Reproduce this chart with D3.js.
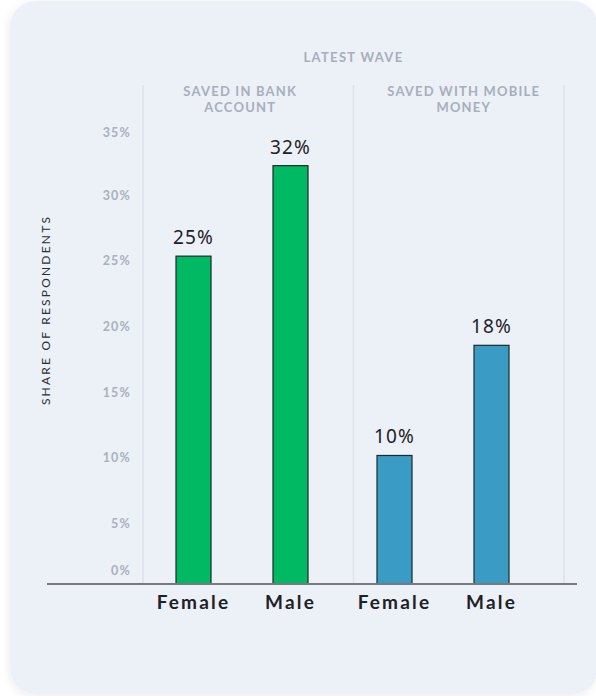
<!DOCTYPE html>
<html>
<head>
<meta charset="utf-8">
<script src="https://cdn.jsdelivr.net/npm/d3@7/dist/d3.min.js"></script>
<style>
  html, body { margin: 0; padding: 0; background: #ffffff; }
  svg { display: block; }
</style>
</head>
<body>
<script>
// ---- data ----
const groups = ["SAVED IN BANK ACCOUNT", "SAVED WITH MOBILE MONEY"];
const groupHeaderLines = [["SAVED IN BANK", "ACCOUNT"], ["SAVED WITH MOBILE", "MONEY"]];
const sexes = ["Female", "Male"];
const bankValues = [25.0, 31.9];
const mobileValues = [9.8, 18.2];
const valueLabels = [["25%", "32%"], ["10%", "18%"]];
const yTicks = [0, 5, 10, 15, 20, 25, 30, 35];
const yTickLabels = ["0%", "5%", "10%", "15%", "20%", "25%", "30%", "35%"];
const waveTitle = "LATEST WAVE";
const yTitle = "SHARE OF RESPONDENTS";

const series = [bankValues, mobileValues];
const colors = ["#00b962", "#3a9bc4"];

const W = 596, H = 696;
const svg = d3.select("body").append("svg").attr("width", W).attr("height", H);

// card
const defs = svg.append("defs");
const f = defs.append("filter").attr("id", "sh").attr("x", "-10%").attr("y", "-10%").attr("width", "120%").attr("height", "120%");
f.append("feDropShadow").attr("dx", -1).attr("dy", 2).attr("stdDeviation", 4).attr("flood-color", "#000").attr("flood-opacity", 0.08);
svg.append("rect").attr("x", 10).attr("y", 1).attr("width", 588).attr("height", 693)
  .attr("rx", 26).attr("fill", "#ecf0f7").attr("filter", "url(#sh)");

// scales
const y = d3.scaleLinear().domain([0, 35]).range([584, 125]);
const xCol = d3.scaleBand().domain(groups).range([143, 564]);       // column frames
const x0 = d3.scaleBand().domain(groups).range([141.5, 543.5]);     // group centres for bars
const x1 = d3.scalePoint().domain(sexes).range([-48.5, 48.5]);
const barW = 35;

// column separators
const seps = groups.map(g => xCol(g)).concat([xCol(groups[1]) + xCol.bandwidth()]);
svg.append("g").selectAll("line").data(seps).join("line")
  .attr("x1", d => d).attr("x2", d => d).attr("y1", 85).attr("y2", y(0))
  .attr("stroke", "#dde1ea").attr("stroke-width", 1.5);

// titles
svg.append("text").text(waveTitle)
  .attr("x", xCol(groups[1])).attr("y", 62).attr("text-anchor", "middle")
  .attr("font-family", "Lato, 'Noto Sans', sans-serif").attr("font-weight", 700)
  .attr("font-size", 13).attr("letter-spacing", 1.3).attr("fill", "#a7afbc");

const headerShift = [-8, 5];
groups.forEach((g, i) => {
  const t = svg.append("text").attr("text-anchor", "middle")
    .attr("font-family", "Lato, 'Noto Sans', sans-serif").attr("font-weight", 700)
    .attr("font-size", 13).attr("letter-spacing", 1.2).attr("fill", "#a7afbc");
  groupHeaderLines[i].forEach((ln, j) => {
    t.append("tspan").text(ln).attr("x", xCol(g) + xCol.bandwidth() / 2 + headerShift[i])
      .attr("y", 96 + j * 16);
  });
});

// y axis
const yAxis = svg.append("g").attr("transform", "translate(131,0)")
  .call(d3.axisLeft(y).tickValues(yTicks).tickSize(0).tickPadding(0)
    .tickFormat((d, i) => yTickLabels[i]));
yAxis.select(".domain").remove();
yAxis.selectAll("text")
  .attr("font-family", "Lato, 'Noto Sans', sans-serif").attr("font-weight", 700)
  .attr("font-size", 12.5).attr("letter-spacing", 1.2).attr("fill", "#a9b1be")
  .attr("dy", d => d === 0 ? "-0.8em" : d === 35 ? "0.95em" : "0.7em");

svg.append("text").text(yTitle)
  .attr("transform", "translate(50,310) rotate(-90)")
  .attr("text-anchor", "middle")
  .attr("font-family", "Lato, 'Noto Sans', sans-serif")
  .attr("font-size", 12).attr("letter-spacing", 2.2).attr("fill", "#2b2e35");

// bars
groups.forEach((g, gi) => {
  const gg = svg.append("g");
  const data = sexes.map((s, si) => ({ s, v: series[gi][si], lab: valueLabels[gi][si] }));
  gg.selectAll("rect").data(data).join("rect")
    .attr("x", d => x0(g) + x0.bandwidth() / 2 + x1(d.s) - barW / 2)
    .attr("y", d => y(d.v))
    .attr("width", barW)
    .attr("height", d => y(0) - y(d.v))
    .attr("fill", colors[gi]).attr("stroke", "#1d2a2a").attr("stroke-width", 1.2);
  gg.selectAll("text.val").data(data).join("text").attr("class", "val")
    .text(d => d.lab)
    .attr("x", d => x0(g) + x0.bandwidth() / 2 + x1(d.s))
    .attr("y", d => y(d.v) - 12)
    .attr("text-anchor", "middle")
    .attr("font-family", "'Noto Sans', Lato, sans-serif")
    .attr("font-size", 19).attr("letter-spacing", 1.2).attr("fill", "#1e2126");
  gg.selectAll("text.cat").data(data).join("text").attr("class", "cat")
    .text(d => d.s)
    .attr("x", d => x0(g) + x0.bandwidth() / 2 + x1(d.s))
    .attr("y", 609)
    .attr("text-anchor", "middle")
    .attr("font-family", "Lato, 'Noto Sans', sans-serif").attr("font-weight", 700)
    .attr("font-size", 19).attr("letter-spacing", 2.2).attr("fill", "#1e2126");
});

// baseline
svg.append("line").attr("x1", 47).attr("x2", 577).attr("y1", y(0)).attr("y2", y(0))
  .attr("stroke", "#77797e").attr("stroke-width", 2);
</script>
</body>
</html>
